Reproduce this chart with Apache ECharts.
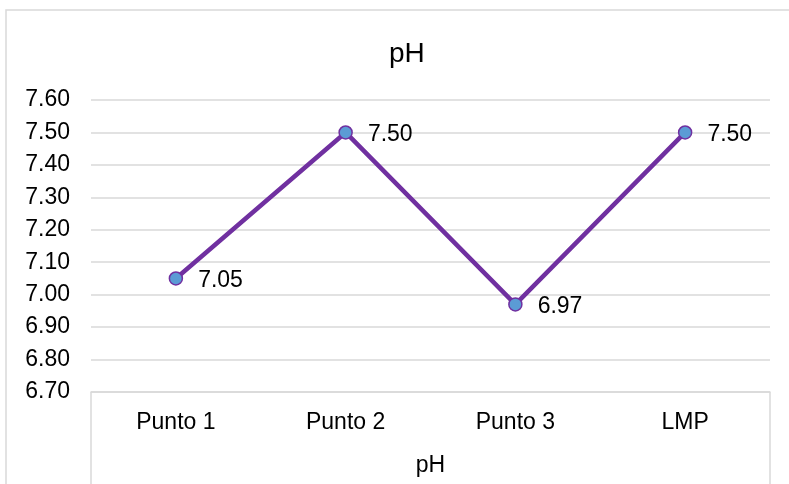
<!DOCTYPE html>
<html>
<head>
<meta charset="utf-8">
<script src="https://cdn.jsdelivr.net/npm/echarts@6/dist/echarts.min.js"></script>
<style>
html,body{margin:0;padding:0;background:#fff;}
#chart{width:789px;height:484px;}
</style>
</head>
<body>
<div id="chart"></div>
<script>
const categories = ['Punto 1', 'Punto 2', 'Punto 3', 'LMP'];
const groupLabel = ['pH'];
const phValues = [7.05, 7.50, 6.97, 7.50];
const yMin = 6.7, yMax = 7.6, yStep = 0.1;
const titleText = 'pH';

const FONT = '"Liberation Sans", Arial, sans-serif';
const chart = echarts.init(document.getElementById('chart'), null, {renderer: 'canvas'});
chart.setOption({
  backgroundColor: '#ffffff',
  animation: false,
  title: {
    text: titleText,
    left: 384,
    top: 35,
    textStyle: {fontFamily: FONT, fontSize: 28, fontWeight: 'normal', color: '#000'}
  },
  graphic: [{
    type: 'rect',
    shape: {x: 6, y: 10, width: 800, height: 500},
    style: {fill: 'none', stroke: '#d9d9d9', lineWidth: 1.5},
    silent: true
  }],
  grid: {left: 91, right: 19, top: 100, bottom: 92, containLabel: false},
  xAxis: [{
    type: 'category',
    data: categories,
    boundaryGap: true,
    position: 'bottom',
    axisLine: {show: true, lineStyle: {color: '#d9d9d9', width: 1.5}},
    axisTick: {show: false},
    axisLabel: {fontFamily: FONT, fontSize: 23, color: '#000', margin: 19}
  }, {
    type: 'category',
    data: groupLabel,
    boundaryGap: true,
    position: 'bottom',
    offset: 0,
    axisLine: {show: false},
    axisTick: {show: true, length: 95, lineStyle: {color: '#d9d9d9', width: 1.5}},
    axisLabel: {fontFamily: FONT, fontSize: 23, color: '#000', margin: 62}
  }],
  yAxis: {
    type: 'value',
    min: yMin, max: yMax, interval: yStep,
    axisLine: {show: false},
    axisTick: {show: false},
    splitLine: {lineStyle: {color: '#d9d9d9', width: 1.5}},
    axisLabel: {
      fontFamily: FONT, fontSize: 23, color: '#000', margin: 21,
      formatter: v => v.toFixed(2)
    }
  },
  series: [{
    type: 'line',
    xAxisIndex: 0,
    data: phValues,
    symbol: 'circle',
    symbolSize: 13,
    lineStyle: {color: '#7030A0', width: 4.5},
    itemStyle: {color: '#5B9BD5', borderColor: '#7030A0', borderWidth: 1.5},
    label: {
      show: true, position: 'right', distance: 15, offset: [0, 2],
      fontFamily: FONT, fontSize: 23, color: '#000',
      formatter: p => p.value.toFixed(2)
    }
  }]
});
</script>
</body>
</html>
